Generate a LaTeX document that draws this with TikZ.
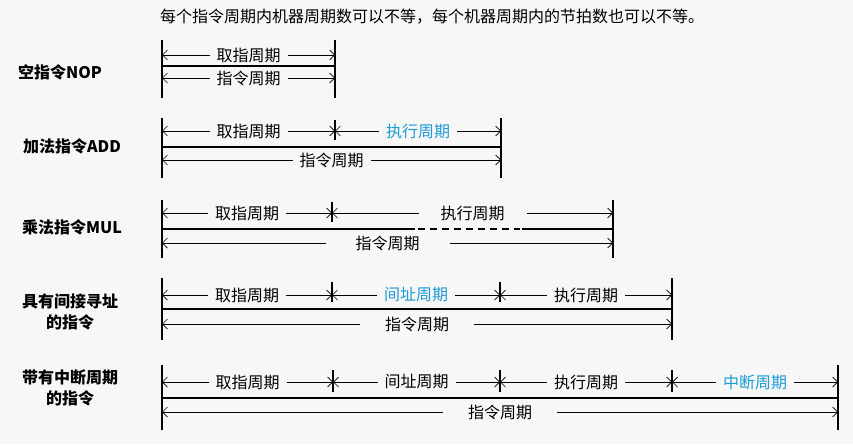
\documentclass[tikz,border=0pt]{standalone}
\usepackage{fontspec}
\setmainfont{Noto Sans CJK SC}
\usetikzlibrary{arrows.meta}
\definecolor{bg}{HTML}{F7F7F7}
\definecolor{hl}{HTML}{1E9BD7}
\tikzset{
  bar/.style={line width=1.6pt},
  base/.style={line width=1.8pt},
  span/.style={{Straight Barb[length=5pt]}-{Straight Barb[length=5pt]}, line width=0.7pt},
  lab/.style={fill=bg, inner xsep=7pt, inner ysep=1pt, font=\fontsize{16}{16}\selectfont},
  rowlab/.style={font=\fontsize{16}{21}\selectfont\bfseries, align=center},
}
\begin{document}
\begin{tikzpicture}[x=1pt,y=-1pt]
\fill[bg] (0,0) rectangle (853,444);
\useasboundingbox (0,0) rectangle (853,444);
\node[font=\fontsize{16}{16}\selectfont] (title) at (432,17) {每个指令周期内机器周期数可以不等，每个机器周期内的节拍数也可以不等。};
% Row 1
\node[rowlab] (n1) at (60,72) {空指令NOP};
\coordinate (a0) at (162,40); \coordinate (a0b) at (162,98);
\coordinate (a1) at (335,40); \coordinate (a1b) at (335,98);
\draw[bar] (a0)--(a0b); \draw[bar] (a1)--(a1b);
\draw[base] (162,66) -- (335,66);
\draw[span] (162,55) -- node[lab] (a2) {取指周期} (335,55);
\draw[span] (162,78) -- node[lab] (a3) {指令周期} (335,78);
% Row 2
\node[rowlab] (n2) at (72,146) {加法指令ADD};
\draw[bar] (162,118)--(162,178); \draw[bar] (335,120)--(335,140); \draw[bar] (501,118)--(501,178);
\draw[base] (162,147) -- (501,147);
\draw[span] (162,131) -- node[lab] (b1) {取指周期} (335,131);
\draw[span] (335,131) -- node[lab,text=hl] (b2) {执行周期} (501,131);
\draw[span] (162,160) -- node[lab] (b3) {指令周期} (501,160);
% Row 3
\node[rowlab] (n3) at (72,227) {乘法指令MUL};
\draw[bar] (162,200)--(162,258); \draw[bar] (332,202)--(332,222); \draw[bar] (613,200)--(613,258);
\draw[base] (162,229) -- (415,229);
\draw[base,dash pattern=on 7pt off 5pt] (418,229) -- (520,229);
\draw[base] (522,229) -- (613,229);
\draw[span] (162,213) -- node[lab] (c1) {取指周期} (332,213);
\draw[span] (332,213) -- node[lab,inner xsep=22pt] (c2) {执行周期} (613,213);
\draw[span] (162,243) -- node[lab,inner xsep=30pt] (c3) {指令周期} (613,243);
% Row 4
\node[rowlab] (n4) at (70,312) {具有间接寻址\\的指令};
\draw[bar] (162,278)--(162,340); \draw[bar] (332,282)--(332,302); \draw[bar] (500,282)--(500,302); \draw[bar] (672,278)--(672,340);
\draw[base] (162,309) -- (672,309);
\draw[span] (162,295) -- node[lab] (d1) {取指周期} (332,295);
\draw[span] (332,295) -- node[lab,text=hl] (d2) {间址周期} (500,295);
\draw[span] (500,295) -- node[lab] (d3) {执行周期} (672,295);
\draw[span] (162,324) -- node[lab,inner xsep=25pt] (d4) {指令周期} (672,324);
% Row 5
\node[rowlab] (n5) at (70,388) {带有中断周期\\的指令};
\draw[bar] (162,365)--(162,430); \draw[bar] (333,370)--(333,392); \draw[bar] (500,370)--(500,392); \draw[bar] (672,370)--(672,392); \draw[bar] (838,365)--(838,430);
\draw[base] (162,398) -- (838,398);
\draw[span] (162,382) -- node[lab] (e1) {取指周期} (333,382);
\draw[span] (333,382) -- node[lab] (e2) {间址周期} (500,382);
\draw[span] (500,382) -- node[lab] (e3) {执行周期} (672,382);
\draw[span] (672,382) -- node[lab,text=hl] (e4) {中断周期} (838,382);
\draw[span] (162,412) -- node[lab,inner xsep=25pt] (e5) {指令周期} (838,412);
\end{tikzpicture}
\end{document}
